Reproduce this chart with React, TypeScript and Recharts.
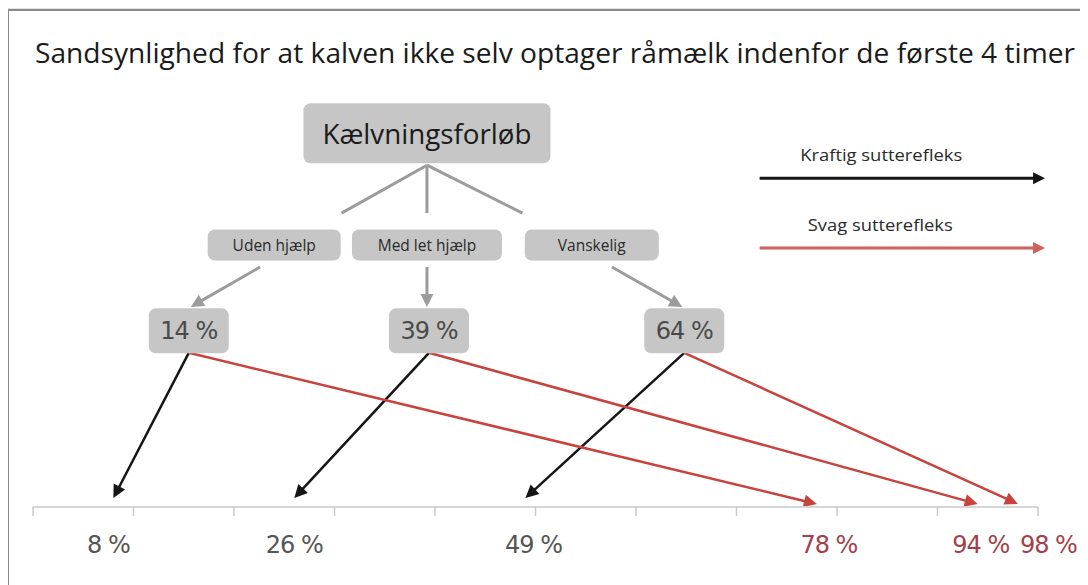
import React from "react";
import {
  ComposedChart,
  XAxis,
  YAxis,
  Scatter,
  ReferenceLine,
  ReferenceDot,
  Customized,
} from "recharts";

const title =
  "Sandsynlighed for at kalven ikke selv optager råmælk indenfor de første 4 timer";
const rootLabel = "Kælvningsforløb";
const calvingTypes = ["Uden hjælp", "Med let hjælp", "Vanskelig"];
const riskAtBirth = [14, 39, 64];
const strongReflex = [8, 26, 49];
const weakReflex = [78, 94, 98];
const legendLabels = ["Kraftig sutterefleks", "Svag sutterefleks"];
const axisTicks = [0, 10, 20, 30, 40, 50, 60, 70, 80, 90, 100];

// layout (data units of the hidden axes: x = % on the scale, y = height above it)
const ROOT_X = 39.2;
const ROOT_Y = 74.9;
const ROOT_BOTTOM = 68.5;
const BRANCH_END = 58.9;
const CAT_Y = 52.5;
const CAT_FROM = 48.1;
const CAT_TO = 40.1;
const PCT_Y = 35.3;
const PCT_BOTTOM = 30.9;
const STRONG_TIP = 1.8;
const WEAK_TIP = 0.6;
const LABEL_Y = -7.6;
const catX = [24.0, 39.2, 55.6];
const catW = [133, 150, 134];
const branchX = [30.7, 39.2, 48.7];
const catArrowFrom = [22.6, 39.2, 57.6];
const catArrowTo = [15.7, 39.2, 64.6];
const pctX = [15.5, 39.4, 64.8];
const labelShift = [-0.5, 0, 0.8, 1.2, 0.3, 0.2];

const BLACK = "#151515";
const RED = "#c8433d";
const GREY = "#9c9c9c";
const BOX = "#c6c6c6";
const SANS = "'Open Sans', 'Noto Sans', sans-serif";
const ROUND = "'DejaVu Sans', sans-serif";

const arrow = (color: string, width: number, head: number) => (p: any) => {
  const { x1, y1, x2, y2 } = p;
  const len = Math.hypot(x2 - x1, y2 - y1) || 1;
  const ux = (x2 - x1) / len;
  const uy = (y2 - y1) / len;
  const bx = x2 - ux * head;
  const by = y2 - uy * head;
  const hw = head * 0.5;
  return (
    <g>
      <line x1={x1} y1={y1} x2={bx + ux * 2} y2={by + uy * 2} stroke={color} strokeWidth={width} />
      <polygon
        points={`${x2},${y2} ${bx - uy * hw},${by + ux * hw} ${bx + uy * hw},${by - ux * hw}`}
        fill={color}
      />
    </g>
  );
};

const box =
  (label: string, w: number, h: number, size: number, font: string, color: string, fit?: number) =>
  (p: any) => (
    <g>
      <rect x={p.cx - w / 2} y={p.cy - h / 2} width={w} height={h} rx={7} fill={BOX} />
      <text
        x={p.cx}
        y={p.cy}
        textAnchor="middle"
        dominantBaseline="central"
        fontFamily={font}
        fontSize={size}
        fill={color}
        letterSpacing={font === ROUND ? -1 : 0}
        textLength={fit}
        lengthAdjust={fit ? "spacingAndGlyphs" : undefined}
      >
        {label}
      </text>
    </g>
  );

const label =
  (text: string, size: number, font: string, color: string, anchor = "middle", fit?: number) =>
  (p: any) => (
    <text
      x={p.cx}
      y={p.cy}
      textAnchor={anchor}
      dominantBaseline="central"
      fontFamily={font}
      fontSize={size}
      fill={color}
      letterSpacing={font === ROUND ? -1 : 0}
      textLength={fit}
      lengthAdjust={fit ? "spacingAndGlyphs" : undefined}
    >
      {text}
    </text>
  );

const Frame = () => (
  <g>
    <rect x={0} y={0} width={1090} height={3} fill="#e2e2e2" />
    <rect x={0} y={2} width={1100} height={600} fill="none" stroke="#8a8a8a" strokeWidth={2} />
    <text
      x={27}
      y={55}
      fontFamily={SANS}
      fontSize={27}
      fill="#1a1a1a"
      textLength={1040}
      lengthAdjust="spacingAndGlyphs"
    >
      {title}
    </text>
  </g>
);

const outcomes = [
  ...strongReflex.map((v) => ({ x: v, y: STRONG_TIP })),
  ...weakReflex.map((v) => ({ x: v, y: WEAK_TIP })),
];

export default function App() {
  return (
    <ComposedChart
      width={1080}
      height={577}
      margin={{ top: 0, right: 50, bottom: 0, left: 25 }}
      style={{ background: "#fff" }}
    >
      <Customized component={Frame} />
      <XAxis
        type="number"
        dataKey="x"
        domain={[0, 100]}
        ticks={axisTicks}
        tick={() => <g />}
        tickSize={9}
        height={78}
        axisLine={{ stroke: "#d6d6d6", strokeWidth: 2 }}
        tickLine={{ stroke: "#c9c9c9", strokeWidth: 1.5 }}
      />
      <YAxis type="number" dataKey="y" domain={[0, 100]} hide />
      <Scatter data={outcomes} shape={() => <g />} isAnimationActive={false} />

      {/* tree connectors */}
      {branchX.map((x, i) => (
        <ReferenceLine
          key={`br${i}`}
          segment={[
            { x: ROOT_X, y: ROOT_BOTTOM },
            { x, y: BRANCH_END },
          ]}
          stroke={GREY}
          strokeWidth={3}
        />
      ))}
      {calvingTypes.map((_, i) => (
        <ReferenceLine
          key={`ca${i}`}
          segment={[
            { x: catArrowFrom[i], y: CAT_FROM },
            { x: catArrowTo[i], y: CAT_TO },
          ]}
          shape={arrow(GREY, 3, 13)}
        />
      ))}

      {/* outcome arrows */}
      {riskAtBirth.map((_, i) => (
        <ReferenceLine
          key={`s${i}`}
          segment={[
            { x: pctX[i], y: PCT_BOTTOM },
            { x: strongReflex[i], y: STRONG_TIP },
          ]}
          shape={arrow(BLACK, 2.5, 13)}
        />
      ))}
      {riskAtBirth.map((_, i) => (
        <ReferenceLine
          key={`w${i}`}
          segment={[
            { x: pctX[i], y: PCT_BOTTOM },
            { x: weakReflex[i], y: WEAK_TIP },
          ]}
          shape={arrow(RED, 2.5, 13)}
        />
      ))}

      {/* legend */}
      <ReferenceLine
        segment={[
          { x: 72.3, y: 65.9 },
          { x: 100.7, y: 65.9 },
        ]}
        ifOverflow="visible"
        shape={arrow(BLACK, 3, 12)}
      />
      <ReferenceLine
        segment={[
          { x: 72.3, y: 51.9 },
          { x: 100.7, y: 51.9 },
        ]}
        ifOverflow="visible"
        shape={arrow("#d0605a", 3, 12)}
      />
      <ReferenceDot x={84.4} y={70.5} shape={label(legendLabels[0], 16, SANS, "#2a2a2a", "middle", 162)} />
      <ReferenceDot x={84.3} y={56.5} shape={label(legendLabels[1], 16, SANS, "#2a2a2a", "middle", 145)} />

      {/* boxes */}
      <ReferenceDot x={ROOT_X} y={ROOT_Y} shape={box(rootLabel, 247, 60, 27, SANS, "#1a1a1a", 209)} />
      {calvingTypes.map((c, i) => (
        <ReferenceDot key={c} x={catX[i]} y={CAT_Y} shape={box(c, catW[i], 31, 15.5, SANS, "#2a2a2a")} />
      ))}
      {riskAtBirth.map((v, i) => (
        <ReferenceDot key={`p${v}`} x={pctX[i]} y={PCT_Y} shape={box(`${v} %`, 80, 45, 24, ROUND, "#4a4a4a")} />
      ))}

      {/* outcome labels under the scale */}
      {strongReflex.map((v, i) => (
        <ReferenceDot
          key={`ls${v}`}
          x={v + labelShift[i]}
          y={LABEL_Y}
          ifOverflow="visible"
          shape={label(`${v} %`, 24, ROUND, "#555555")}
        />
      ))}
      {weakReflex.map((v, i) => (
        <ReferenceDot
          key={`lw${v}`}
          x={v + labelShift[i + 3]}
          y={LABEL_Y}
          ifOverflow="visible"
          shape={label(`${v} %`, 24, ROUND, "#a33f4a", i === weakReflex.length - 1 ? "start" : "middle")}
        />
      ))}
    </ComposedChart>
  );
}
